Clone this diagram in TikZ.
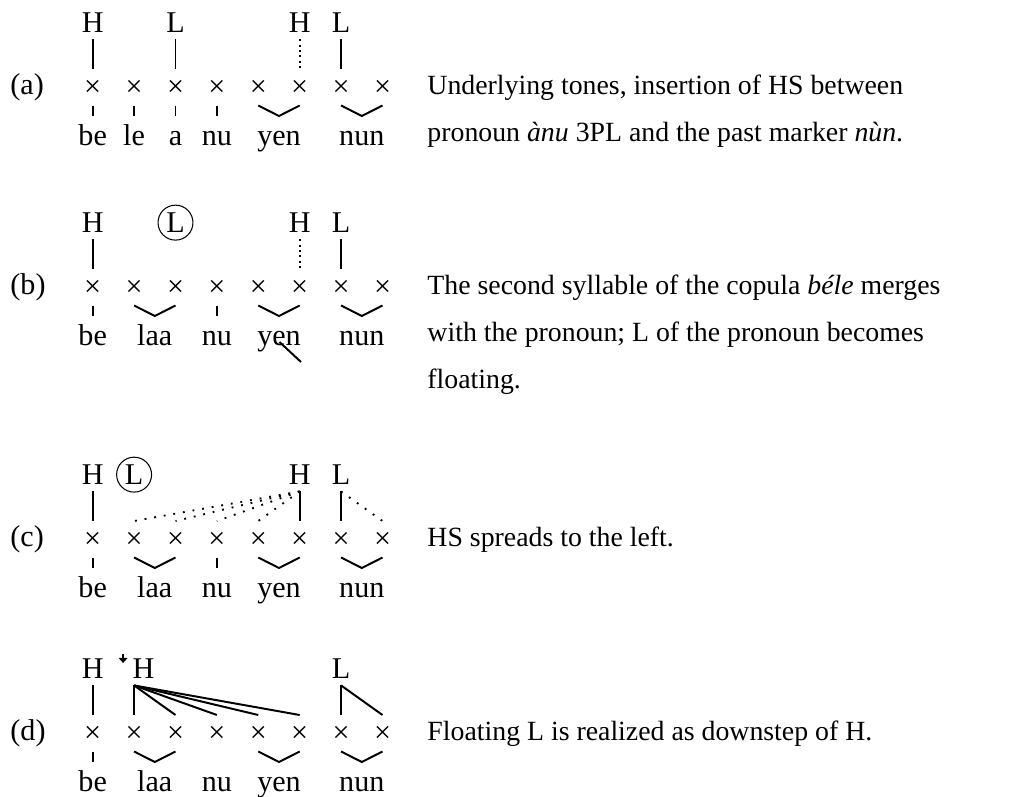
\documentclass[tikz,border=0pt]{standalone}
\usepackage{fontspec}
\setmainfont{Liberation Serif}
\usetikzlibrary{arrows.meta, calc}
\tikzset{
  >=Latex,
  slot/.style={inner sep=0pt},
  tone/.style={inner xsep=0pt, inner ysep=2.8pt, anchor=base},
  floatL/.style={draw, circle, line width=0.45pt, inner sep=0pt,
    minimum size=0.53cm, anchor=base},
  syl/.style={inner sep=0pt, anchor=base},
  desc/.style={inner sep=0pt, anchor=base west, font=\fontsize{12}{14.4}\selectfont},
  assoc/.style={line width=0.85pt},
  hs/.style={line width=0.8pt, dash pattern=on 0.8pt off 1.5pt},
  spread/.style={line width=0.8pt, dash pattern=on 0.8pt off 3.4pt}
}
\begin{document}
\begin{tikzpicture}[x=0.01517cm, y=-0.01517cm, font=\fontsize{13}{15.6}\selectfont]
  \useasboundingbox (0,0) rectangle (1018,797);
  % timing slots, one row per step
  \foreach \row/\yy in {a/88, b/288, c/540, d/734} {
    \node[anchor=base west, inner sep=0pt] (lab\row) at (10,\yy+6) {(\row)};
    \foreach \i in {1,...,8} {
      \node[slot] (\row\i) at ({92.7+(\i-1)*41.4},\yy) {×};
      \coordinate (t\row\i) at ({92.7+(\i-1)*41.4},\yy-19);
      \coordinate (b\row\i) at ({92.7+(\i-1)*41.4},\yy+17.5);
      \coordinate (s\row\i) at ({92.7+(\i-1)*41.4},\yy+28);
    }
  }
  \foreach \k in {a1,a2,a3,a4,b1,b4,c1,c4,d1}
    \draw[assoc] (b\k) -- (s\k);
  \foreach \row/\i/\j in {a/5/6,a/7/8,b/2/3,b/5/6,b/7/8,c/2/3,c/5/6,c/7/8,d/2/3,d/5/6,d/7/8}
    \draw[assoc] (b\row\i) -- ($(s\row\i)!.5!(s\row\j)$) -- (b\row\j);

  % syllables
  \foreach \k/\txt in {1/be,2/le,3/a,4/nu}
    \node[syl] (aS\k) at ($(a\k)+(0,57)$) {\txt};
  \node[syl] (aS5) at ($(a5)!.5!(a6)+(0,57)$) {yen};
  \node[syl] (aS6) at ($(a7)!.5!(a8)+(0,57)$) {nun};
  \foreach \row in {b,c,d} {
    \node[syl] (\row S1) at ($(\row1)+(0,57)$) {be};
    \node[syl] (\row S2) at ($(\row2)!.5!(\row3)+(0,57)$) {laa};
    \node[syl] (\row S3) at ($(\row4)+(0,57)$) {nu};
    \node[syl] (\row S4) at ($(\row5)!.5!(\row6)+(0,57)$) {yen};
    \node[syl] (\row S5) at ($(\row7)!.5!(\row8)+(0,57)$) {nun};
  }
  \draw[assoc] (279.5,342) -- (301,362);

  % (a) tones
  \node[tone] (aH1) at ($(a1)+(0,-55.5)$) {H};
  \node[tone] (aL1) at ($(a3)+(0,-55.5)$) {L};
  \node[tone] (aH2) at ($(a6)+(0,-55.5)$) {H};
  \node[tone] (aL2) at ($(a7)+(0,-55.5)$) {L};
  \draw[assoc] (aH1.south) -- (ta1);
  \draw[assoc] (aL1.south) -- (ta3);
  \draw[hs] (aH2.south) -- (ta6);
  \draw[assoc] (aL2.south) -- (ta7);

  % (b) tones
  \node[tone] (bH1) at ($(b1)+(0,-55.5)$) {H};
  \node[floatL] (bL1) at ($(b3)+(0,-55.5)$) {L};
  \node[tone] (bH2) at ($(b6)+(0,-55.5)$) {H};
  \node[tone] (bL2) at ($(b7)+(0,-55.5)$) {L};
  \draw[assoc] (bH1.south) -- (tb1);
  \draw[hs] (bH2.south) -- (tb6);
  \draw[assoc] (bL2.south) -- (tb7);

  % (c) tones
  \node[tone] (cH1) at ($(c1)+(0,-55.5)$) {H};
  \node[floatL] (cL1) at ($(c2)+(0,-55.5)$) {L};
  \node[tone] (cH2) at ($(c6)+(0,-55.5)$) {H};
  \node[tone] (cL2) at ($(c7)+(0,-55.5)$) {L};
  \draw[assoc] (cH1.south) -- (tc1);
  \draw[assoc] (cH2.south) -- (tc6);
  \foreach \i in {2,...,5}
    \draw[spread] (cH2.south) -- (tc\i);
  \draw[assoc] (cL2.south) -- (tc7);
  \draw[spread] (cL2.south) -- (tc8);

  % (d) tones
  \node[tone] (dH1) at ($(d1)+(0,-55.5)$) {H};
  \node[tone, anchor=base west] (dH2) at ($(d2)+(-2,-55.5)$) {H};
  \node[tone] (dL1) at ($(d7)+(0,-55.5)$) {L};
  \draw[line width=0.55pt, -{Triangle[width=3.8pt, length=2.2pt]}]
    ($(d2)+(-11,-80)$) -- ($(d2)+(-11,-71)$);
  \draw[assoc] (dH1.south) -- (td1);
  \foreach \i in {2,...,6}
    \draw[assoc] ($(dH2.south west)+(2,0)$) -- (td\i);
  \draw[assoc] (dL1.south) -- (td7);
  \draw[assoc] (dL1.south) -- (td8);

  % comments on each step
  \node[desc] (descA1) at (427,94) {Underlying tones, insertion of HS between};
  \node[desc] (descA2) at (427,141) {pronoun \textit{ànu} 3PL and the past marker \textit{nùn}.};
  \node[desc] (descB1) at (427,294) {The second syllable of the copula \textit{béle} merges};
  \node[desc] (descB2) at (427,341) {with the pronoun; L of the pronoun becomes};
  \node[desc] (descB3) at (427,388) {floating.};
  \node[desc] (descC1) at (427,546) {HS spreads to the left.};
  \node[desc] (descD1) at (427,740) {Floating L is realized as downstep of H.};
\end{tikzpicture}
\end{document}
